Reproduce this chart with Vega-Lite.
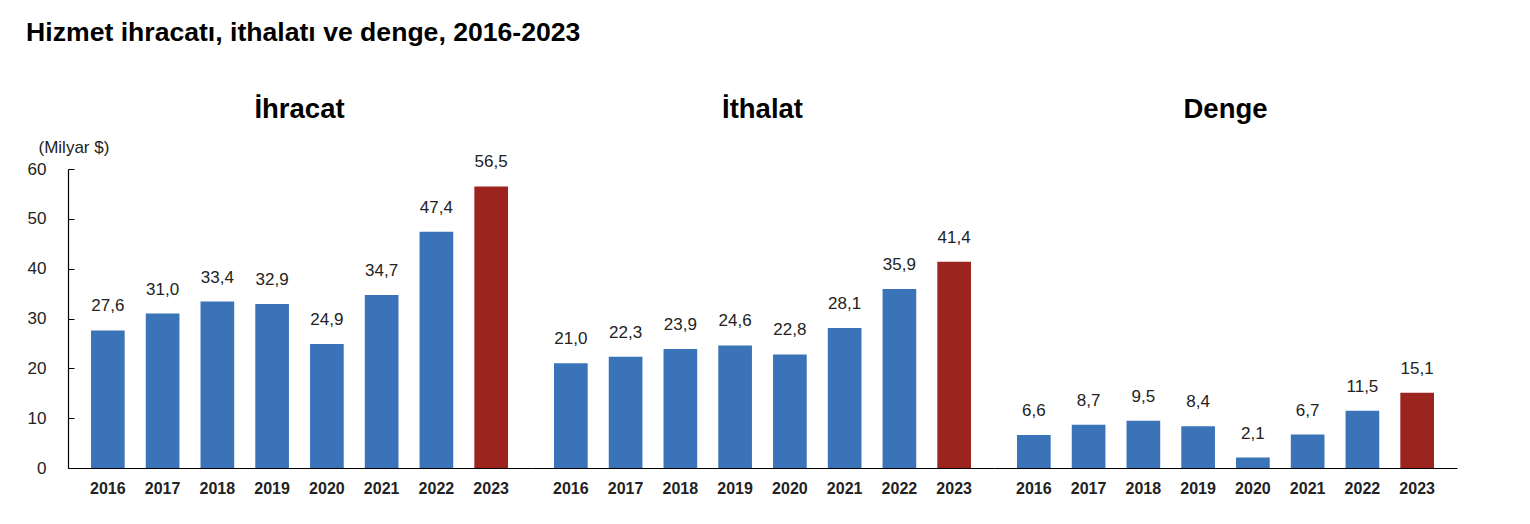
{
  "$schema": "https://vega.github.io/schema/vega-lite/v6.json",
  "background": "white",
  "padding": {"left": 26, "top": 19, "right": 10, "bottom": 5},
  "title": {
    "text": "Hizmet ihracatı, ithalatı ve denge, 2016-2023",
    "anchor": "start",
    "font": "Liberation Sans",
    "fontSize": 26.6,
    "fontWeight": "bold",
    "color": "#000000",
    "dx": -1,
    "offset": 49
  },
  "data": {
    "values": [
      {"grup": "İhracat", "yil": "2016", "deger": 27.6},
      {"grup": "İhracat", "yil": "2017", "deger": 31.0},
      {"grup": "İhracat", "yil": "2018", "deger": 33.4},
      {"grup": "İhracat", "yil": "2019", "deger": 32.9},
      {"grup": "İhracat", "yil": "2020", "deger": 24.9},
      {"grup": "İhracat", "yil": "2021", "deger": 34.7},
      {"grup": "İhracat", "yil": "2022", "deger": 47.4},
      {"grup": "İhracat", "yil": "2023", "deger": 56.5},
      {"grup": "İthalat", "yil": "2016", "deger": 21.0},
      {"grup": "İthalat", "yil": "2017", "deger": 22.3},
      {"grup": "İthalat", "yil": "2018", "deger": 23.9},
      {"grup": "İthalat", "yil": "2019", "deger": 24.6},
      {"grup": "İthalat", "yil": "2020", "deger": 22.8},
      {"grup": "İthalat", "yil": "2021", "deger": 28.1},
      {"grup": "İthalat", "yil": "2022", "deger": 35.9},
      {"grup": "İthalat", "yil": "2023", "deger": 41.4},
      {"grup": "Denge", "yil": "2016", "deger": 6.6},
      {"grup": "Denge", "yil": "2017", "deger": 8.7},
      {"grup": "Denge", "yil": "2018", "deger": 9.5},
      {"grup": "Denge", "yil": "2019", "deger": 8.4},
      {"grup": "Denge", "yil": "2020", "deger": 2.1},
      {"grup": "Denge", "yil": "2021", "deger": 6.7},
      {"grup": "Denge", "yil": "2022", "deger": 11.5},
      {"grup": "Denge", "yil": "2023", "deger": 15.1}
    ]
  },
  "facet": {
    "column": {
      "field": "grup",
      "type": "nominal",
      "sort": ["İhracat", "İthalat", "Denge"],
      "header": {
        "title": null,
        "labelFont": "Liberation Sans",
        "labelFontSize": 27.5,
        "labelFontWeight": "bold",
        "labelColor": "#000000",
        "labelPadding": 30
      }
    }
  },
  "spacing": 0,
  "spec": {
    "width": 463,
    "height": 299,
    "encoding": {
      "x": {
        "field": "yil",
        "type": "ordinal",
        "scale": {"paddingInner": 0.385, "paddingOuter": 0.42},
        "axis": {
          "title": null,
          "ticks": false,
          "labelAngle": 0,
          "labelFont": "Liberation Sans",
          "labelFontSize": 16,
          "labelFontWeight": "bold",
          "labelColor": "#222222",
          "labelPadding": 12,
          "domainColor": "#000000",
          "domainWidth": 1.2
        }
      },
      "y": {
        "field": "deger",
        "type": "quantitative",
        "scale": {"domain": [0, 60], "nice": false},
        "axis": {
          "values": [0, 10, 20, 30, 40, 50, 60],
          "grid": false,
          "tickSize": -6,
          "tickColor": "#000000",
          "domainColor": "#000000",
          "domainWidth": 1.2,
          "labelFont": "Liberation Sans",
          "labelFontSize": 17,
          "labelColor": "#222222",
          "labelPadding": 28,
          "title": "(Milyar $)",
          "titleFont": "Liberation Sans",
          "titleFontSize": 17,
          "titleFontWeight": "normal",
          "titleColor": "#222222",
          "titleAngle": 0,
          "titleAlign": "left",
          "titleBaseline": "alphabetic",
          "titleX": -30,
          "titleY": -17
        }
      }
    },
    "layer": [
      {
        "mark": {"type": "bar"},
        "encoding": {
          "color": {
            "condition": {"test": "datum.yil === '2023'", "value": "#9b241f"},
            "value": "#3a73b8"
          }
        }
      },
      {
        "mark": {
          "type": "text",
          "dy": -15,
          "font": "Liberation Sans",
          "fontSize": 17,
          "color": "#222222",
          "baseline": "bottom"
        },
        "encoding": {
          "text": {"field": "deger", "type": "quantitative", "format": ".1f"}
        }
      }
    ]
  },
  "config": {
    "view": {"stroke": null},
    "locale": {
      "number": {
        "decimal": ",",
        "thousands": ".",
        "grouping": [3],
        "currency": ["", " $"]
      }
    }
  }
}
